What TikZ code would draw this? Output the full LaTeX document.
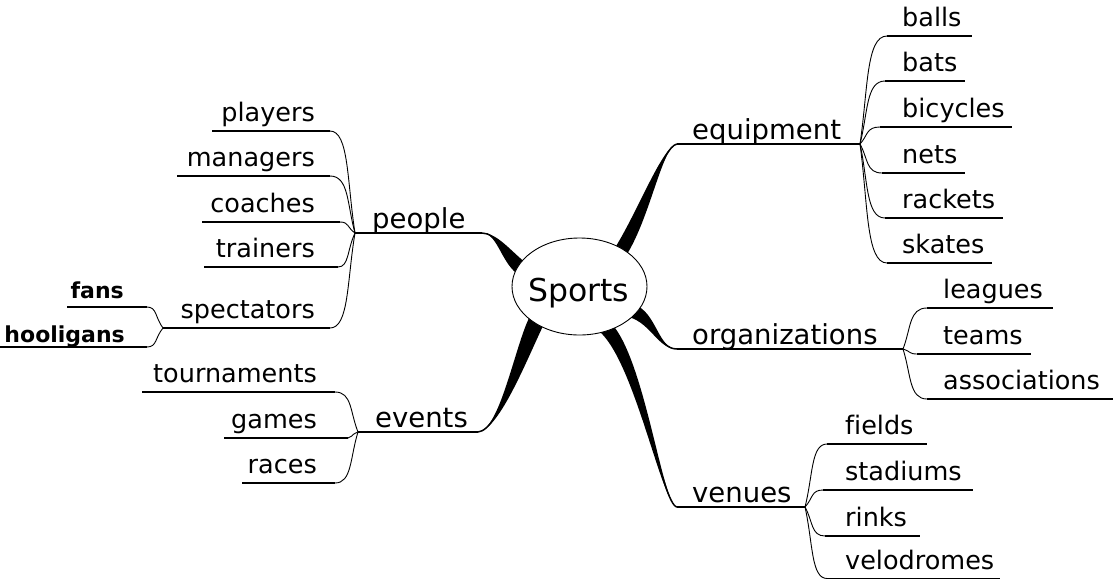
\documentclass[tikz,border=0pt]{standalone}
\usepackage{fontspec}
\setmainfont{DejaVu Sans}[Ligatures=NoCommon]
\usetikzlibrary{calc,shapes.geometric}
% #1 text style, #2 name, #3 junction, #4 x near junction, #5 x far end, #6 y of line, #7 text position, #8 text, #9 side (1 right, -1 left)
\newcommand\mmleaf[9]{%
  \coordinate (#2-a) at (#4,#6);
  \coordinate (#2-b) at (#5,#6);
  \node[#1] (#2) at #7 {#8};
  \draw[uline] (#2-a) -- (#2-b);
  \draw[conn] (#3) let \p1=(#3), \p2=(#2-a) in
     .. controls ({\x1+(#9)*8pt},{0.5*\y1+0.5*\y2}) and ({\x1+(#9)*6pt},\y2) .. (#2-a);
}
% #1 start, #2 end, #3 control offset from start, #4 control offset from end, #5 half width vector
\newcommand\mmbranch[5]{%
  \fill ($(#1)+(#5)$) .. controls ($(#1)+(#3)+(#5)$) and ($(#2)+(#4)$) .. (#2)
     .. controls ($(#2)+(#4)$) and ($(#1)+(#3)-(#5)$) .. ($(#1)-(#5)$) -- cycle;
  \draw[tline] (#1) .. controls ($(#1)+(#3)$) and ($(#2)+(#4)$) .. (#2);
}
\begin{document}
\begin{tikzpicture}[x=1pt,y=-1pt,
  leaftext/.style={inner sep=0pt,font=\fontsize{25.5}{30}\selectfont},
  subtext/.style={inner sep=0pt,font=\fontsize{22}{26}\selectfont\bfseries},
  topictext/.style={inner sep=0pt,font=\fontsize{27.5}{33}\selectfont},
  uline/.style={line width=1.2pt},
  tline/.style={line width=1.5pt},
  conn/.style={line width=0.9pt},
]
\fill[white] (0,0) rectangle (1113,579);
\useasboundingbox (0,0) rectangle (1113,579);

% topic coordinates
\coordinate (eqS) at (621,251);  \coordinate (eqE) at (677,144);  \coordinate (eqJ) at (860,144);
\coordinate (orS) at (632,311);  \coordinate (orE) at (677,349);  \coordinate (orJ) at (903,349);
\coordinate (veS) at (605,327);  \coordinate (veE) at (677,507);  \coordinate (veJ) at (805,507);
\coordinate (peS) at (521,268);  \coordinate (peE) at (482,233);  \coordinate (peJ) at (355,233);
\coordinate (evS) at (537,320);  \coordinate (evE) at (478,432);  \coordinate (evJ) at (358,432);

% thick tapered branches
\mmbranch{eqS}{eqE}{24,-39}{-15,3}{5.8,3.5}
\mmbranch{orS}{orE}{22,7}{-19,0}{-2.4,6.2}
\mmbranch{veS}{veE}{35,33}{-15,-2}{4.5,-5.4}
\mmbranch{peS}{peE}{-16,-13}{15,0}{4.5,-5.3}
\mmbranch{evS}{evE}{-15,30}{22,-2}{7.3,3.4}

% central node
\node[ellipse,draw,fill=white,line width=0.9pt,minimum width=135pt,minimum height=97pt,inner sep=0pt] (sports) at (579.5,286.5) {};
\node[inner sep=0pt,anchor=base,font=\fontsize{31.5}{36}\selectfont] (sportslbl) at (578.5,301) {Sports};

% topic lines and labels
\draw[tline] (eqE) -- (eqJ);
\draw[tline] (orE) -- (orJ);
\draw[tline] (veE) -- (veJ);
\draw[tline] (peE) -- (peJ);
\draw[tline] (evE) -- (evJ);
\node[topictext,anchor=base west] (equipment) at (692,139) {equipment};
\node[topictext,anchor=base west] (organizations) at (692,344) {organizations};
\node[topictext,anchor=base west] (venues) at (692,502) {venues};
\node[topictext,anchor=base west] (people) at (372,228) {people};
\node[topictext,anchor=base west] (events) at (375,427) {events};

% equipment
\mmleaf{leaftext,anchor=base west}{balls}{eqJ}{887}{972}{36}{(902,26.5)}{balls}{1}
\mmleaf{leaftext,anchor=base west}{bats}{eqJ}{885}{965}{81}{(902,71.5)}{bats}{1}
\mmleaf{leaftext,anchor=base west}{bicycles}{eqJ}{880}{1012}{127}{(902,117.5)}{bicycles}{1}
\mmleaf{leaftext,anchor=base west}{nets}{eqJ}{882}{965}{173}{(902,163.5)}{nets}{1}
\mmleaf{leaftext,anchor=base west}{rackets}{eqJ}{885}{1003}{218}{(902,208.5)}{rackets}{1}
\mmleaf{leaftext,anchor=base west}{skates}{eqJ}{887}{992}{263}{(902,253.5)}{skates}{1}

% organizations
\mmleaf{leaftext,anchor=base west}{leagues}{orJ}{927}{1053}{308}{(943,298.5)}{leagues}{1}
\mmleaf{leaftext,anchor=base west}{teams}{orJ}{917}{1031}{354}{(943,344.5)}{teams}{1}
\mmleaf{leaftext,anchor=base west}{associations}{orJ}{927}{1113}{399}{(943,389.5)}{associations}{1}

% venues
\mmleaf{leaftext,anchor=base west}{fields}{veJ}{827}{927}{444}{(845,434.5)}{fields}{1}
\mmleaf{leaftext,anchor=base west}{stadiums}{veJ}{823}{973}{490}{(845,480.5)}{stadiums}{1}
\mmleaf{leaftext,anchor=base west}{rinks}{veJ}{825}{920}{536}{(845,526.5)}{rinks}{1}
\mmleaf{leaftext,anchor=base west}{velodromes}{veJ}{827}{1000}{578.5}{(845,569)}{velodromes}{1}

% people
\mmleaf{leaftext,anchor=base east}{players}{peJ}{330}{212}{131}{(315,121.5)}{players}{-1}
\mmleaf{leaftext,anchor=base east}{managers}{peJ}{330}{177}{176}{(315,166.5)}{managers}{-1}
\mmleaf{leaftext,anchor=base east}{coaches}{peJ}{340}{202}{222}{(315,212.5)}{coaches}{-1}
\mmleaf{leaftext,anchor=base east}{trainers}{peJ}{338}{204}{267}{(315,257.5)}{trainers}{-1}
\mmleaf{leaftext,anchor=base east}{spectators}{peJ}{330}{163}{328}{(315,318.5)}{spectators}{-1}

% spectators sub-branches
\mmleaf{subtext,anchor=base east}{fans}{spectators-b}{147}{67}{307}{(124,298)}{fans}{-1}
\mmleaf{subtext,anchor=base east}{hooligans}{spectators-b}{147}{0}{347}{(125,342)}{hooligans}{-1}

% events
\mmleaf{leaftext,anchor=base east}{tournaments}{evJ}{335}{142}{392}{(317,382.5)}{tournaments}{-1}
\mmleaf{leaftext,anchor=base east}{games}{evJ}{348}{224}{438}{(317,428.5)}{games}{-1}
\mmleaf{leaftext,anchor=base east}{races}{evJ}{335}{242}{483}{(317,473.5)}{races}{-1}
\end{tikzpicture}
\end{document}
